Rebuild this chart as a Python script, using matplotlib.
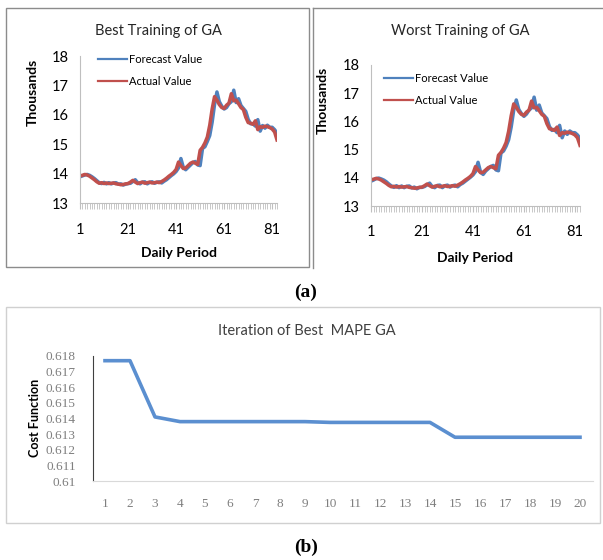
import matplotlib
matplotlib.use("Agg")
import matplotlib.pyplot as plt
from matplotlib.lines import Line2D
from matplotlib.patches import Rectangle
import numpy as np

# daily values (thousands)
actual = [13.93, 13.95, 13.98, 13.96, 13.92, 13.86, 13.80, 13.73, 13.68, 13.70,
          13.67, 13.69, 13.67, 13.68, 13.69, 13.66, 13.65, 13.63, 13.64, 13.66,
          13.67, 13.72, 13.78, 13.72, 13.67, 13.70, 13.72, 13.68, 13.70, 13.72,
          13.69, 13.70, 13.72, 13.70, 13.74, 13.79, 13.85, 13.92, 13.98, 14.05,
          14.15, 14.40, 14.28, 14.18, 14.20, 14.28, 14.36, 14.40, 14.36, 14.32,
          14.80, 14.90, 15.05, 15.25, 15.65, 16.20, 16.62, 16.50, 16.35, 16.25,
          16.22, 16.33, 16.40, 16.72, 16.48, 16.50, 16.38, 16.25, 16.18, 15.92,
          15.74, 15.72, 15.68, 15.80, 15.50, 15.60, 15.58, 15.62, 15.60, 15.57,
          15.52, 15.42, 15.15]
forecast_best = [13.90, 13.93, 13.96, 13.98, 13.95, 13.90, 13.84, 13.77, 13.70, 13.67,
                 13.71, 13.66, 13.70, 13.66, 13.69, 13.70, 13.65, 13.66, 13.62, 13.65,
                 13.67, 13.68, 13.74, 13.80, 13.70, 13.66, 13.72, 13.73, 13.66, 13.71,
                 13.73, 13.68, 13.71, 13.73, 13.69, 13.75, 13.80, 13.87, 13.94, 14.00,
                 14.08, 14.20, 14.52, 14.22, 14.14, 14.22, 14.30, 14.38, 14.42, 14.30,
                 14.28, 14.86, 14.92, 15.10, 15.30, 15.75, 16.35, 16.78, 16.45, 16.30,
                 16.20, 16.25, 16.38, 16.45, 16.84, 16.42, 16.55, 16.32, 16.22, 16.12,
                 15.85, 15.70, 15.70, 15.62, 15.84, 15.45, 15.64, 15.55, 15.65, 15.58,
                 15.58, 15.50, 15.38]
forecast_worst = [13.88, 13.92, 13.97, 13.99, 13.96, 13.92, 13.86, 13.78, 13.71, 13.66,
                  13.72, 13.65, 13.71, 13.65, 13.70, 13.71, 13.64, 13.67, 13.61, 13.66,
                  13.66, 13.69, 13.75, 13.81, 13.69, 13.65, 13.73, 13.74, 13.65, 13.72,
                  13.74, 13.67, 13.72, 13.74, 13.68, 13.76, 13.81, 13.88, 13.95, 14.02,
                  14.10, 14.22, 14.55, 14.20, 14.12, 14.24, 14.32, 14.40, 14.44, 14.28,
                  14.25, 14.88, 14.95, 15.12, 15.35, 15.80, 16.40, 16.76, 16.42, 16.28,
                  16.18, 16.26, 16.40, 16.48, 16.86, 16.40, 16.58, 16.30, 16.20, 16.10,
                  15.82, 15.68, 15.72, 15.60, 15.86, 15.42, 15.66, 15.54, 15.66, 15.60,
                  15.60, 15.52, 15.40]
day_ticks = [1, 21, 41, 61, 81]
thousand_ticks = [13, 14, 15, 16, 17, 18]

# GA iterations
iterations = list(range(1, 21))
cost = [0.6177, 0.6177, 0.6141, 0.6138, 0.6138, 0.6138, 0.6138, 0.6138, 0.6138, 0.61375,
        0.61375, 0.61375, 0.61375, 0.61375, 0.6128, 0.6128, 0.6128, 0.6128, 0.6128, 0.6128]
cost_ticks = [0.61, 0.611, 0.612, 0.613, 0.614, 0.615, 0.616, 0.617, 0.618]
cost_labels = ["0.61", "0.611", "0.612", "0.613", "0.614", "0.615", "0.616", "0.617", "0.618"]

BLUE = "#4F81BD"
RED = "#C0504D"
FONT = "Lato"

W, H = 603, 560
fig = plt.figure(figsize=(W / 100, H / 100), dpi=100)

def fx(px):
    return px / W

def fy(py):
    return 1 - py / H

# panel frames
fig.add_artist(Rectangle((fx(6), fy(267)), fx(303), 259 / H, transform=fig.transFigure,
                         fill=False, edgecolor="#8c8c8c", linewidth=1.0))
fig.add_artist(Line2D([fx(313), fx(313)], [fy(268), fy(8)], transform=fig.transFigure,
                      color="#8c8c8c", linewidth=1.0))
fig.add_artist(Line2D([fx(313), fx(603)], [fy(8), fy(8)], transform=fig.transFigure,
                      color="#8c8c8c", linewidth=1.0))
fig.add_artist(Rectangle((fx(6), fy(523)), fx(594), 216 / H, transform=fig.transFigure,
                         fill=False, edgecolor="#d0d0d0", linewidth=1.0))


def training_panel(rect, forecast, title, title_xy, ylab_xy, xlab_xy, leg_xy):
    ax = fig.add_axes(rect)
    days = np.arange(1, len(actual) + 1)
    ax.plot(days, forecast, color=BLUE, linewidth=2.5, solid_joinstyle="round", label="Forecast Value")
    ax.plot(days, actual, color=RED, linewidth=2.5, solid_joinstyle="round", label="Actual Value")
    ax.set_xlim(1, len(actual))
    ax.set_ylim(13, 18)
    ax.set_xticks(day_ticks)
    ax.set_xticks(days, minor=True)
    ax.set_yticks(thousand_ticks)
    for s in ["top", "right"]:
        ax.spines[s].set_visible(False)
    for s in ["left", "bottom"]:
        ax.spines[s].set_color("#bfbfbf")
        ax.spines[s].set_linewidth(0.8)
    ax.tick_params(axis="x", which="major", length=4, color="#bfbfbf", pad=10, labelsize=10.5)
    ax.tick_params(axis="x", which="minor", length=4, color="#bfbfbf", width=0.6)
    ax.tick_params(axis="y", length=0, pad=8, labelsize=10.5)
    for lab in ax.get_xticklabels() + ax.get_yticklabels():
        lab.set_fontfamily(FONT)
    fig.text(fx(title_xy[0]), fy(title_xy[1]), title, ha="center", va="center",
             fontsize=10.5, family=FONT, color="#262626")
    fig.text(fx(ylab_xy[0]), fy(ylab_xy[1]), "Thousands", ha="center", va="center",
             rotation=90, fontsize=10, family=FONT, fontweight="bold")
    fig.text(fx(xlab_xy[0]), fy(xlab_xy[1]), "Daily Period", ha="center", va="center",
             fontsize=10, family=FONT, fontweight="bold")
    leg = fig.legend(*ax.get_legend_handles_labels(), loc="upper left",
                     bbox_to_anchor=(fx(leg_xy[0]), fy(leg_xy[1])), frameon=False,
                     prop={"family": FONT, "size": 8}, handlelength=2.6, handletextpad=0.2,
                     labelspacing=1.0, borderpad=0, borderaxespad=0)
    for ln in leg.get_lines():
        ln.set_linewidth(1.6)
    return ax


training_panel([fx(80), fy(203.3), fx(197), 147.3 / H], forecast_best, "Best Training of GA",
               (158, 31), (33, 92), (179, 253), (98, 54))
training_panel([fx(371), fy(206), fx(209), 141 / H], forecast_worst, "Worst Training of GA",
               (460, 31), (323, 100), (475, 258), (384, 73))

# (b) convergence
ax3 = fig.add_axes([fx(92.5), fy(481), fx(500), 125 / H])
ax3.plot(iterations, cost, color="#5B8FD0", linewidth=2.6, solid_joinstyle="round")
ax3.set_xlim(0.5, 20.5)
ax3.set_ylim(0.61, 0.618)
ax3.set_xticks(iterations)
ax3.set_yticks(cost_ticks)
ax3.set_yticklabels(cost_labels)
for s in ["top", "right"]:
    ax3.spines[s].set_visible(False)
ax3.spines["bottom"].set_color("#d9d9d9")
ax3.spines["left"].set_color("#404040")
ax3.spines["left"].set_linewidth(0.8)
ax3.tick_params(axis="both", length=0, labelsize=9.5, labelcolor="#7f7f7f")
ax3.tick_params(axis="x", pad=12)
ax3.tick_params(axis="y", pad=12)
for lab in ax3.get_xticklabels() + ax3.get_yticklabels():
    lab.set_fontfamily("Liberation Serif")
fig.text(fx(307), fy(331), "Iteration of Best  MAPE GA", ha="center", va="center",
         fontsize=10.5, family=FONT, color="#404040")
fig.text(fx(35), fy(418), "Cost Function", ha="center", va="center", rotation=90,
         fontsize=9, family=FONT, fontweight="bold")

# sub-figure labels
fig.text(fx(306), fy(292), "(a)", ha="center", va="center", fontsize=14,
         family="Liberation Serif", fontweight="bold")
fig.text(fx(306), fy(547), "(b)", ha="center", va="center", fontsize=14,
         family="Liberation Serif", fontweight="bold")

fig.savefig("out.png", dpi=100)
